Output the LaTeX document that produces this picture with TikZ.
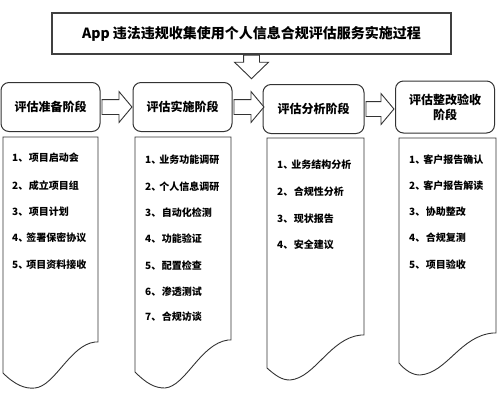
\documentclass[tikz,border=0pt]{standalone}
\usepackage{fontspec}
\setmainfont{Noto Sans CJK SC}
\usepackage{tikz}
\usetikzlibrary{positioning}
\usetikzlibrary{shapes.arrows}
\tikzset{
  title_box/.style={draw, line width=1.2pt, color=black!75, text=black, minimum width=399, minimum height=41, inner sep=0, font=\bfseries\fontsize{14}{16}\selectfont},
  stage_box/.style={draw, rounded corners=8, line width=1pt, color=black!80, text=black, minimum width=99, minimum height=49, inner sep=0, align=center, font=\bfseries\fontsize{12}{15}\selectfont},
  block_arrow/.style={single arrow, draw, line width=0.9pt, color=black!80, fill=white, inner sep=7pt, single arrow head extend=8pt, single arrow tip angle=100, minimum height=30},
  block_arrow_down/.style={single arrow, shape border rotate=270, draw, line width=0.9pt, color=black!80, fill=white, inner sep=7.5pt, single arrow head extend=9pt, single arrow tip angle=92, minimum height=23},
  doc_shape/.style={draw, line width=0.9pt, color=black!80},
  item_text/.style={anchor=west, inner sep=0, font=\bfseries\fontsize{10}{12}\selectfont}
}
\begin{document}
\begin{tikzpicture}[x=1pt, y=-1pt]
\useasboundingbox (0,0) rectangle (497,400);

%% title and stages
\node[title_box] at (251.5,33.5) (title) {App 违法违规收集使用个人信息合规评估服务实施过程};
\node[block_arrow_down, below=0pt of title] (down) {};

\node[stage_box] at (50.5,107)  (s1) {评估准备阶段};
\node[stage_box] at (182.5,107) (s2) {评估实施阶段};
\node[stage_box, minimum width=101] at (313.5,109) (s3) {评估分析阶段};
\node[stage_box, minimum height=52] at (445,107) (s4) {评估整改验收\\阶段};

%% arrows
\node[block_arrow, right=1pt of s1] (a1) {};
\node[block_arrow, right=1pt of s2] (a2) {};
\node[block_arrow, right=1pt of s3, minimum height=28] (a3) {};

%% documents
\draw[doc_shape] (3,137) -- (3,373) .. controls (15,385) and (25,389) .. (35,388)
    .. controls (55,386) and (70,345) .. (95,342) -- (98,342) -- (98,137) -- cycle;
\draw[doc_shape] (135,137) -- (135,372) .. controls (147,384) and (155,388) .. (165,388)
    .. controls (186,386) and (200,344) .. (228,340) -- (231,340) -- (231,137) -- cycle;
\draw[doc_shape] (267,138) -- (267,368) .. controls (276,376) and (282,380) .. (290,380)
    .. controls (315,378) and (330,338) .. (361,335) -- (364,335) -- (364,138) -- cycle;
\draw[doc_shape] (399,138) -- (399,363) .. controls (405,370) and (412,375) .. (420,375)
    .. controls (447,373) and (460,336) .. (493,333) -- (496,333) -- (496,138) -- cycle;

%% items
\node[item_text] at (12,158) (c1r1) {1、\hspace{0.5pt}项目启动会};
\node[item_text] at (12,186) (c1r2) {2、\hspace{0.5pt}成立项目组};
\node[item_text] at (12,212) (c1r3) {3、\hspace{0.5pt}项目计划};
\node[item_text] at (12,238) (c1r4) {4、\hspace{-2pt}签署保密协议};
\node[item_text] at (12,265) (c1r5) {5、\hspace{-2pt}项目资料接收};

\node[item_text] at (145,160) (c2r1) {1、\hspace{-2pt}业务功能调研};
\node[item_text] at (145,187) (c2r2) {2、\hspace{-2pt}个人信息调研};
\node[item_text] at (145,213) (c2r3) {3、\hspace{0.5pt}自动化检测};
\node[item_text] at (145,239) (c2r4) {4、\hspace{0.5pt}功能验证};
\node[item_text] at (145,266) (c2r5) {5、\hspace{0.5pt}配置检查};
\node[item_text] at (145,292) (c2r6) {6、\hspace{0.5pt}渗透测试};
\node[item_text] at (145,317) (c2r7) {7、\hspace{0.5pt}合规访谈};

\node[item_text] at (277,165) (c3r1) {1、\hspace{-2pt}业务结构分析};
\node[item_text] at (277,192) (c3r2) {2、\hspace{0.5pt}合规性分析};
\node[item_text] at (277,219) (c3r3) {3、\hspace{0.5pt}现状报告};
\node[item_text] at (277,245) (c3r4) {4、\hspace{0.5pt}安全建议};

\node[item_text] at (409,160) (c4r1) {1、\hspace{-2pt}客户报告确认};
\node[item_text] at (409,186) (c4r2) {2、\hspace{-2pt}客户报告解读};
\node[item_text] at (409,212) (c4r3) {3、\hspace{0.5pt}协助整改};
\node[item_text] at (409,238) (c4r4) {4、\hspace{0.5pt}合规复测};
\node[item_text] at (409,265) (c4r5) {5、\hspace{0.5pt}项目验收};
\end{tikzpicture}
\end{document}
